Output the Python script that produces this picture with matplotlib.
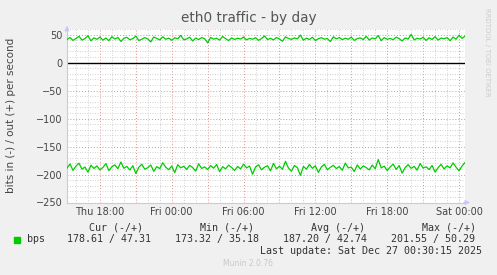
import numpy as np
import pandas as pd
import matplotlib
matplotlib.use("Agg")
import matplotlib.pyplot as plt
import matplotlib.dates as mdates
from matplotlib.ticker import MultipleLocator, FuncFormatter

# 15 minute samples, Thu 15:15 -> Sat 00:30
start = "2025-12-25 15:15"
n_points = 134

out_bps = [
    41.2, 44.8, 39.6, 43.1, 46.9, 40.3, 42.7, 48.1, 38.9, 44.2,
    41.5, 45.6, 40.1, 43.8, 39.2, 46.3, 42.0, 44.9, 37.8, 43.5,
    45.1, 40.7, 42.9, 47.2, 39.5, 41.8, 44.6, 42.3, 36.9, 45.8,
    43.0, 40.4, 46.1, 41.6, 43.7, 39.9, 44.3, 42.5, 48.6, 40.8,
    42.2, 45.3, 38.6, 43.9, 41.1, 44.7, 42.6, 35.18, 45.0, 41.9,
    43.4, 40.2, 46.5, 42.8, 39.4, 44.1, 41.3, 43.6, 42.0, 45.7,
    40.6, 43.2, 41.7, 44.4, 39.8, 42.9, 47.6, 41.0, 43.3, 40.5,
    44.8, 42.1, 38.2, 45.9, 43.1, 41.4, 44.0, 42.4, 49.1, 40.0,
    43.7, 41.2, 45.2, 39.3, 42.6, 44.5, 41.8, 43.0, 37.5, 46.0,
    42.3, 44.9, 40.9, 43.5, 41.6, 45.4, 39.7, 42.8, 44.2, 41.0,
    46.8, 40.3, 43.9, 42.2, 48.3, 39.1, 44.6, 41.5, 43.2, 40.8,
    45.5, 42.7, 38.8, 44.0, 41.9, 50.29, 40.6, 43.4, 42.1, 45.1,
    39.6, 44.3, 41.3, 46.4, 40.2, 43.8, 42.5, 44.7, 39.0, 45.6,
    41.7, 48.9, 43.3, 47.31]

in_bps = [
    -188.4, -181.2, -192.6, -185.0, -179.8, -190.3, -186.7, -195.9, -183.4, -189.1,
    -184.6, -191.8, -187.3, -180.5, -193.2, -186.0, -182.9, -189.7, -177.6, -188.8,
    -185.5, -192.1, -184.2, -198.3, -186.9, -181.7, -190.6, -187.8, -183.0, -194.4,
    -185.9, -189.5, -178.9, -187.1, -191.3, -184.8, -196.7, -182.5, -188.0, -185.3,
    -190.9, -183.7, -187.6, -193.9, -180.8, -189.2, -186.4, -191.1, -184.0, -188.7,
    -182.2, -195.0, -186.1, -189.8, -183.3, -187.4, -192.8, -185.7, -190.0, -181.5,
    -188.2, -184.9, -199.4, -186.6, -182.7, -191.6, -187.0, -184.3, -193.5, -180.1,
    -189.9, -185.2, -190.7, -176.4, -188.5, -194.1, -183.8, -187.9, -201.55, -185.6,
    -190.4, -182.0, -188.9, -184.5, -196.2, -186.3, -181.9, -191.5, -187.2, -183.6,
    -189.3, -185.8, -192.4, -179.5, -188.1, -186.8, -194.7, -182.8, -190.2, -184.7,
    -187.5, -191.9, -183.1, -189.6, -173.32, -188.3, -185.1, -193.0, -186.5, -181.4,
    -190.8, -184.1, -197.5, -187.7, -182.4, -189.0, -185.4, -192.3, -180.3, -188.6,
    -186.2, -191.2, -183.9, -195.6, -187.9, -181.8, -190.1, -184.4, -188.2, -179.2,
    -186.9, -193.3, -185.0, -178.61]

legend_cols = ["Cur (-/+)", "Min (-/+)", "Avg (-/+)", "Max (-/+)"]
legend_vals = ["178.61 / 47.31", "173.32 / 35.18", "187.20 / 42.74", "201.55 / 50.29"]

times = pd.date_range(start, periods=n_points, freq="15min")

bg = "#f0f0f0"
fig = plt.figure(figsize=(4.97, 2.75), dpi=100, facecolor=bg)
ax = fig.add_axes([67/497, 1-202.5/275, 398/497, 173.5/275])
ax.set_facecolor("white")

ax.plot(times, out_bps, color="#00cc00", lw=0.9, zorder=3)
ax.plot(times, in_bps, color="#00cc00", lw=0.9, zorder=3)
ax.axhline(0, color="black", lw=1.0, zorder=2)

ax.set_xlim(times[0], times[-1])
ax.set_ylim(-250, 60)

ax.xaxis.set_major_locator(mdates.HourLocator(byhour=range(0, 24, 3)))
ax.xaxis.set_minor_locator(mdates.HourLocator())
def xfmt(v, pos):
    d = mdates.num2date(v)
    if d.hour % 6:
        return ""
    return d.strftime("%a %H:%M")
ax.xaxis.set_major_formatter(FuncFormatter(xfmt))
ax.yaxis.set_major_locator(MultipleLocator(50))
ax.yaxis.set_minor_locator(MultipleLocator(10))

ax.grid(which="minor", color="#c4c4c4", lw=0.6, ls=(0, (1, 2)))
ax.grid(which="major", color="#e09090", lw=0.7, ls=(0, (1, 2)))
ax.set_axisbelow(True)
ax.tick_params(which="both", length=0, labelsize=7, colors="#444444", pad=3)

for s in ["top", "right"]:
    ax.spines[s].set_visible(False)
for s in ["left", "bottom"]:
    ax.spines[s].set_color("#c8c8f0")
    ax.spines[s].set_linewidth(0.8)
ax.annotate("", xy=(0, 1.035), xytext=(0, 0.98), xycoords="axes fraction",
            arrowprops=dict(arrowstyle="-|>", color="#c8c8f0", lw=0.8, mutation_scale=7))
ax.annotate("", xy=(1.02, 0), xytext=(0.99, 0), xycoords="axes fraction",
            arrowprops=dict(arrowstyle="-|>", color="#c8c8f0", lw=0.8, mutation_scale=7))

fig.text(11/497, 1-115/275, "bits in (-) / out (+) per second", rotation=90,
         ha="center", va="center", fontsize=7.5, color="#444444")
fig.text(0.5, 1-18/275, "eth0 traffic - by day", ha="center", va="center",
         fontsize=9.8, color="#555555")
fig.text(487/497, 1-52/275, "RRDTOOL / TOBI OETIKER", rotation=270, ha="center", va="center",
         fontsize=5, color="#cccccc")

mono = dict(family="DejaVu Sans Mono", fontsize=7.2, color="#333333")
col_x = [89, 200, 311, 422]
val_x = [67, 175, 283, 391]
for c, x in zip(legend_cols, col_x):
    fig.text(x/497, 1-228/275, c, ha="left", va="center", **mono)
for v, x in zip(legend_vals, val_x):
    fig.text(x/497, 1-239/275, v, ha="left", va="center", **mono)
fig.text(27/497, 1-239/275, "bps", ha="left", va="center", **mono)
fig.patches.append(plt.Rectangle((14/497, 1-242.5/275), 6/497, 6/275,
                                 transform=fig.transFigure, color="#00cc00"))
fig.text(482/497, 1-251/275, "Last update: Sat Dec 27 00:30:15 2025", ha="right", va="center", **mono)
fig.text(248/497, 1-264/275, "Munin 2.0.76", ha="center", va="center", fontsize=5.5, color="#c8c8c8")

fig.savefig("out.png", dpi=100, facecolor=bg)
